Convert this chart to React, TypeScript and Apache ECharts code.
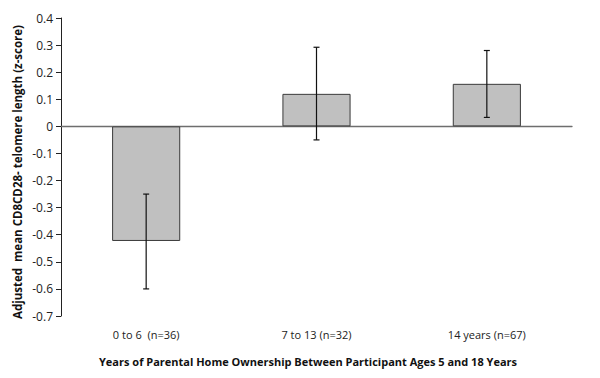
import React, { useEffect, useRef } from "react";
import * as echarts from "echarts";

const categories = ["0 to 6  (n=36)", "7 to 13 (n=32)", "14 years (n=67)"];
const means = [-0.423, 0.12, 0.157];
const errLow = [-0.6, -0.05, 0.033];
const errHigh = [-0.25, 0.292, 0.28];
const yTicks = { min: -0.7, max: 0.4, interval: 0.1 };
const xTitle = "Years of Parental Home Ownership Between Participant Ages 5 and 18 Years";
const yTitle = "Adjusted  mean CD8CD28- telomere length (z-score)";

const FONT = "'Open Sans', 'Liberation Sans', sans-serif";

export default function App() {
  const ref = useRef<HTMLDivElement>(null);
  useEffect(() => {
    if (!ref.current) return;
    const chart = echarts.init(ref.current, undefined, { renderer: "svg" });
    chart.setOption({
      animation: false,
      backgroundColor: "#ffffff",
      grid: { left: 61, right: 28, top: 18, bottom: 62 },
      graphic: [
        {
          type: "text",
          x: 308,
          y: 361,
          style: {
            text: xTitle,
            fill: "#111",
            font: `bold 11px ${FONT}`,
            align: "center",
            verticalAlign: "middle",
          },
        },
        {
          type: "text",
          x: 17,
          y: 172,
          rotation: Math.PI / 2,
          style: {
            text: yTitle,
            fill: "#111",
            font: `bold 11.5px ${FONT}`,
            align: "center",
            verticalAlign: "middle",
          },
        },
      ],
      xAxis: [
        {
          type: "category",
          data: categories,
          position: "bottom",
          axisLine: { show: true, onZero: true, lineStyle: { color: "#6e6e6e", width: 1.3 } },
          axisTick: { show: false },
          axisLabel: { show: false },
        },
        {
          type: "category",
          data: categories,
          position: "bottom",
          axisLine: { show: false, onZero: false },
          axisTick: { show: false },
          axisLabel: { show: true, color: "#222", fontFamily: FONT, fontSize: 11, margin: 13 },
        },
      ],
      yAxis: {
        type: "value",
        min: yTicks.min,
        max: yTicks.max,
        interval: yTicks.interval,
        splitLine: { show: false },
        axisLine: { show: true, lineStyle: { color: "#222", width: 1 } },
        axisTick: { show: true, length: 5, lineStyle: { color: "#222" } },
        axisLabel: {
          color: "#222",
          fontFamily: FONT,
          fontSize: 12,
          margin: 8,
          formatter: (v: number) => {
            const r = Math.round(v * 10) / 10;
            return r === 0 ? "0" : String(r);
          },
        },
      },
      series: [
        {
          type: "bar",
          xAxisIndex: 0,
          data: means,
          barWidth: "40%",
          itemStyle: { color: "#c0c0c0", borderColor: "#3a3a3a", borderWidth: 1 },
        },
        {
          type: "custom",
          xAxisIndex: 0,
          data: categories.map((_, i) => [i, errLow[i], errHigh[i]]),
          renderItem: (params: any, api: any) => {
            const x = api.value(0);
            const lo = api.coord([x, api.value(1)]);
            const hi = api.coord([x, api.value(2)]);
            const cap = 3;
            const style = { stroke: "#111", lineWidth: 1.2 };
            return {
              type: "group",
              children: [
                { type: "line", shape: { x1: lo[0], y1: lo[1], x2: hi[0], y2: hi[1] }, style },
                { type: "line", shape: { x1: lo[0] - cap, y1: lo[1], x2: lo[0] + cap, y2: lo[1] }, style },
                { type: "line", shape: { x1: hi[0] - cap, y1: hi[1], x2: hi[0] + cap, y2: hi[1] }, style },
              ],
            };
          },
          z: 10,
        },
      ],
    });
    return () => chart.dispose();
  }, []);
  return <div ref={ref} style={{ width: 600, height: 378, position: "absolute", left: 0, top: 0 }} />;
}
